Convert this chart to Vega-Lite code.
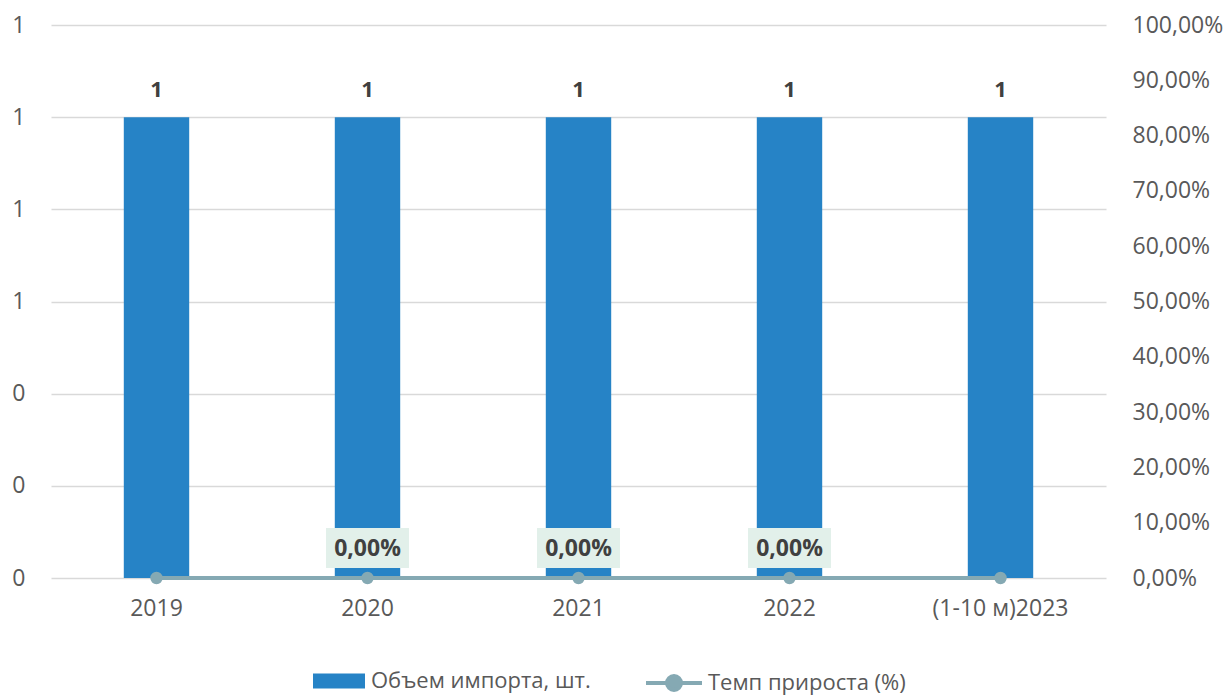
{
  "$schema": "https://vega.github.io/schema/vega-lite/v6.json",
  "width": 1055,
  "height": 553,
  "autosize": {"type": "none"},
  "padding": {"left": 51, "top": 25, "right": 122, "bottom": 119},
  "config": {
    "locale": {"number": {"decimal": ",", "thousands": " ", "grouping": [3], "currency": ["", " ₽"]}},
    "font": "Open Sans",
    "view": {"stroke": null},
    "axis": {"labelFont": "Open Sans", "labelFontSize": 23, "labelColor": "#595959", "ticks": false, "domain": false, "title": null},
    "legend": {"labelFont": "Open Sans", "labelFontSize": 22, "labelColor": "#595959", "labelLimit": 500}
  },
  "data": {
    "values": [
      {"year": "2019", "import": 1, "growth": 0, "showLabel": false},
      {"year": "2020", "import": 1, "growth": 0, "showLabel": true},
      {"year": "2021", "import": 1, "growth": 0, "showLabel": true},
      {"year": "2022", "import": 1, "growth": 0, "showLabel": true},
      {"year": "(1-10 м)2023", "import": 1, "growth": 0, "showLabel": false}
    ]
  },
  "encoding": {
    "x": {
      "field": "year", "type": "nominal", "sort": null,
      "scale": {"paddingInner": 0.69, "paddingOuter": 0.345},
      "axis": {"labelAngle": 0, "labelPadding": 19, "grid": false}
    }
  },
  "layer": [
    {
      "encoding": {
        "y": {
          "field": "import", "type": "quantitative",
          "scale": {"domain": [0, 1.2], "nice": false},
          "axis": {"orient": "left", "values": [0, 0.2, 0.4, 0.6, 0.8, 1.0, 1.2], "format": ".0f", "grid": true, "gridColor": "#D9D9D9", "gridWidth": 1.5, "labelPadding": 26}
        }
      },
      "layer": [
        {
          "mark": {"type": "bar"},
          "encoding": {
            "fill": {
              "datum": "Объем импорта, шт.",
              "scale": {"range": ["#2683C6"]},
              "legend": {"title": null, "orient": "none", "legendX": 262, "legendY": 630, "symbolType": "M-1,-0.29H1V0.29H-1Z", "symbolSize": 2704, "symbolStrokeWidth": 0, "labelOffset": 6, "labelLimit": 500}
            }
          }
        },
        {
          "mark": {"type": "text", "baseline": "alphabetic", "dy": -20, "fontSize": 22, "fontWeight": "bold", "color": "#404040"},
          "encoding": {"text": {"field": "import", "type": "quantitative", "format": ".0f"}}
        }
      ]
    },
    {
      "encoding": {
        "y": {
          "field": "growth", "type": "quantitative",
          "scale": {"domain": [0, 1], "nice": false},
          "axis": {"orient": "right", "values": [0, 0.1, 0.2, 0.3, 0.4, 0.5, 0.6, 0.7, 0.8, 0.9, 1.0], "format": ".2%", "grid": false, "labelPadding": 26}
        }
      },
      "layer": [
        {
          "mark": {"type": "line", "strokeWidth": 4},
          "encoding": {
            "stroke": {
              "datum": "Темп прироста (%)",
              "scale": {"range": ["#85A9B3"]},
              "legend": {"title": null, "orient": "none", "legendX": 593, "legendY": 628, "symbolType": "M-1,0H1M0.25,0A0.25,0.25 0 1 1 -0.25,0A0.25,0.25 0 1 1 0.25,0Z", "symbolSize": 3136, "symbolStrokeWidth": 4, "symbolFillColor": "#85A9B3", "labelOffset": 4, "labelLimit": 500}
            }
          }
        },
        {
          "mark": {"type": "point", "filled": true, "shape": "circle", "size": 154, "color": "#85A9B3", "opacity": 1}
        },
        {
          "transform": [{"filter": "datum.showLabel"}],
          "mark": {"type": "point", "filled": true, "shape": "M-1,-0.482H1V0.482H-1Z", "size": 6889, "color": "#E2F0EA", "opacity": 1, "yOffset": -30}
        },
        {
          "transform": [{"filter": "datum.showLabel"}],
          "mark": {"type": "text", "baseline": "middle", "dy": -29, "fontSize": 23, "fontWeight": "bold", "color": "#404040"},
          "encoding": {"text": {"field": "growth", "type": "quantitative", "format": ".2%"}}
        }
      ]
    }
  ],
  "resolve": {"scale": {"y": "independent"}}
}
